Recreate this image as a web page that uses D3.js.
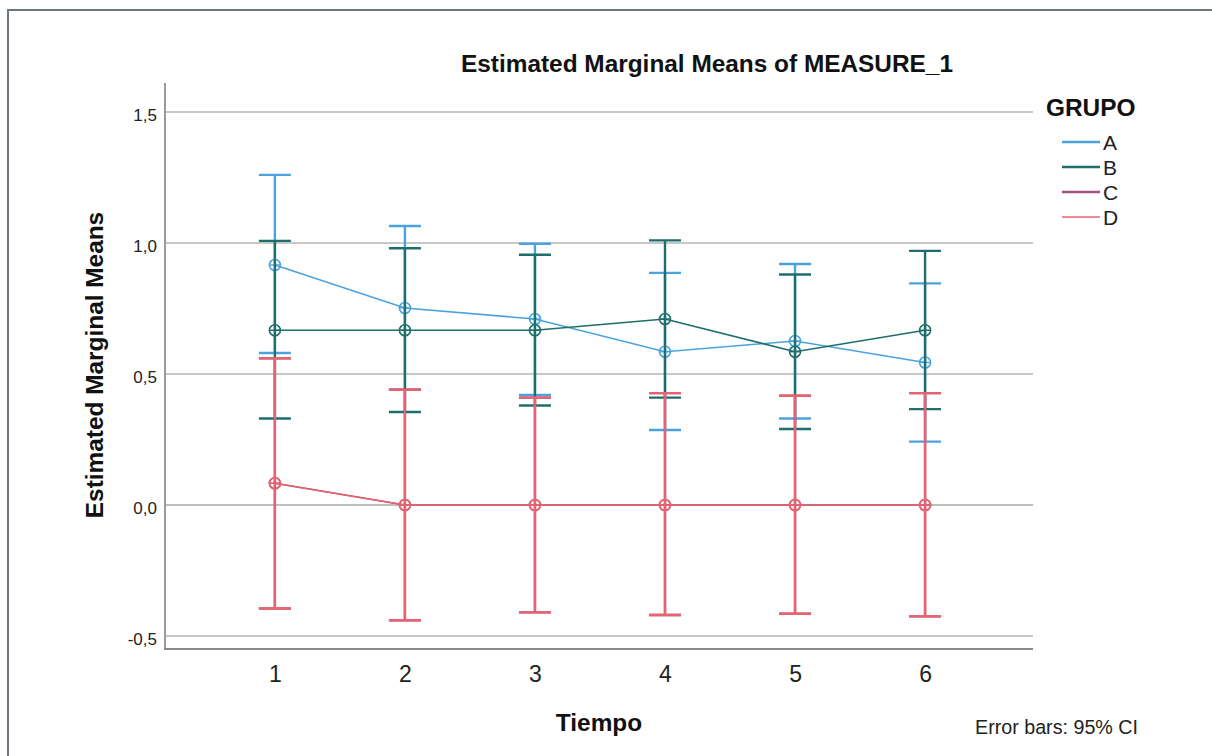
<!DOCTYPE html>
<html lang="en">
<head>
<meta charset="utf-8">
<script src="https://cdn.jsdelivr.net/npm/d3@7"></script>
<style>
body{margin:0;background:#fff;font-family:"Liberation Sans",Arial,sans-serif;}
</style>
</head>
<body>
<div id="drawarea"></div>
<script>
// data
const tiempo=[1,2,3,4,5,6]
const grupos=["A","B","C","D"]
const colores=["#4ba3dd","#1e6e6c","#a5507e","#e8636f"]
const meanA=[0.916,0.752,0.710,0.585,0.626,0.544]
const lowA =[0.580,0.440,0.420,0.286,0.330,0.242]
const highA=[1.260,1.065,0.997,0.886,0.920,0.846]
const meanB=[0.667,0.667,0.667,0.710,0.585,0.667]
const lowB =[0.330,0.355,0.380,0.410,0.290,0.366]
const highB=[1.008,0.980,0.955,1.010,0.880,0.970]
const meanC=[0.083,0,0,0,0,0]
const lowC =[-0.395,-0.440,-0.410,-0.420,-0.415,-0.425]
const highC=[0.560,0.440,0.410,0.427,0.417,0.427]
const meanD=[0.083,0,0,0,0,0]
const lowD =[-0.395,-0.440,-0.410,-0.420,-0.415,-0.425]
const highD=[0.560,0.440,0.410,0.427,0.417,0.427]
const yTicks=[-0.5,0,0.5,1.0,1.5]

const series=[
 {g:"A",m:meanA,lo:lowA,hi:highA},
 {g:"B",m:meanB,lo:lowB,hi:highB},
 {g:"C",m:meanC,lo:lowC,hi:highC},
 {g:"D",m:meanD,lo:lowD,hi:highD}
]

const W=1212,H=756
const pLeft=165,pRight=1033,pTop=83,pBottom=649
const color=d3.scaleOrdinal().domain(grupos).range(colores)
const x=d3.scaleLinear().domain([0.155,6.83]).range([pLeft,pRight])
const y=d3.scaleLinear().domain([0,1.5]).range([505,112])

const svg=d3.select("#drawarea").append("svg").attr("width",W).attr("height",H).style("display","block")
 .style("font-family","Liberation Sans, Arial, sans-serif")

// outer frame
svg.append("path").attr("d","M8,756 V10 H1212").attr("fill","none").attr("stroke","#6d7681").attr("stroke-width",2)

// gridlines
svg.append("g").selectAll("line").data(yTicks).enter().append("line")
 .attr("x1",pLeft).attr("x2",pRight).attr("y1",d=>y(d)).attr("y2",d=>y(d))
 .attr("stroke",d=>d==0?"#a8a8a8":"#c8c8c8").attr("stroke-width",d=>d==0?1.3:2)

// axes
const yAxis=svg.append("g").attr("transform","translate("+pLeft+",0)")
 .call(d3.axisLeft(y).tickValues(yTicks).tickSize(0).tickPadding(8).tickFormat(d=>d3.format(".1f")(d).replace(".",",").replace("−","-")))
yAxis.select(".domain").remove()
yAxis.selectAll("text").style("font-size","17px").style("font-family","Liberation Sans, Arial, sans-serif").attr("fill","#222").attr("dy","0.5em")
const xAxis=svg.append("g").attr("transform","translate(0,"+pBottom+")")
 .call(d3.axisBottom(x).tickValues(tiempo).tickSize(0).tickPadding(15).tickFormat(d3.format("d")))
xAxis.select(".domain").remove()
xAxis.selectAll("text").style("font-size","23px").style("font-family","Liberation Sans, Arial, sans-serif").attr("fill","#222").attr("y",33).attr("dy",0)
svg.append("line").attr("x1",pLeft).attr("x2",pLeft).attr("y1",pTop).attr("y2",pBottom).attr("stroke","#9a9a9a").attr("stroke-width",2)
svg.append("line").attr("x1",pLeft-1).attr("x2",pRight).attr("y1",pBottom).attr("y2",pBottom).attr("stroke","#8a8a8a").attr("stroke-width",2)

// error bars, lines, markers per group
const cap=16
series.forEach(s=>{
 let c=color(s.g)
 let gg=svg.append("g").attr("class","grp"+s.g)
 let pts=tiempo.map((t,i)=>({t:t,m:s.m[i],lo:s.lo[i],hi:s.hi[i]}))
 gg.selectAll("line.eb").data(pts).enter().append("line").attr("class","eb")
  .attr("x1",d=>x(d.t)).attr("x2",d=>x(d.t)).attr("y1",d=>y(d.lo)).attr("y2",d=>y(d.hi))
  .attr("stroke",c).attr("stroke-width",2.4)
 gg.selectAll("line.capHi").data(pts).enter().append("line").attr("class","capHi")
  .attr("x1",d=>x(d.t)-cap).attr("x2",d=>x(d.t)+cap).attr("y1",d=>y(d.hi)).attr("y2",d=>y(d.hi))
  .attr("stroke",c).attr("stroke-width",2.4)
 gg.selectAll("line.capLo").data(pts).enter().append("line").attr("class","capLo")
  .attr("x1",d=>x(d.t)-cap).attr("x2",d=>x(d.t)+cap).attr("y1",d=>y(d.lo)).attr("y2",d=>y(d.lo))
  .attr("stroke",c).attr("stroke-width",2.4)
 let ln=d3.line().x(d=>x(d.t)).y(d=>y(d.m))
 gg.append("path").attr("d",ln(pts)).attr("fill","none").attr("stroke",c).attr("stroke-width",1.6)
 gg.selectAll("circle").data(pts).enter().append("circle")
  .attr("cx",d=>x(d.t)).attr("cy",d=>y(d.m)).attr("r",5.5).attr("fill","none").attr("stroke",c).attr("stroke-width",1.6)
 gg.selectAll("line.cross").data(pts).enter().append("line").attr("class","cross")
  .attr("x1",d=>x(d.t)-5.5).attr("x2",d=>x(d.t)+5.5).attr("y1",d=>y(d.m)).attr("y2",d=>y(d.m))
  .attr("stroke",c).attr("stroke-width",1.4)
})

// titles
svg.append("text").attr("x",707).attr("y",72).attr("text-anchor","middle")
 .style("font-size","24.4px").style("font-weight","bold").attr("fill","#111").text("Estimated Marginal Means of MEASURE_1")
svg.append("text").attr("transform","translate(103,365) rotate(-90)").attr("text-anchor","middle")
 .style("font-size","24.4px").style("font-weight","bold").attr("fill","#111").text("Estimated Marginal Means")
svg.append("text").attr("x",599).attr("y",731).attr("text-anchor","middle")
 .style("font-size","24.4px").style("font-weight","bold").attr("fill","#111").text("Tiempo")
svg.append("text").attr("x",975).attr("y",734)
 .style("font-size","19.7px").attr("fill","#222").text("Error bars: 95% CI")

// legend
const leg=svg.append("g")
leg.append("text").attr("x",1046).attr("y",116).style("font-size","24.4px").style("font-weight","bold").attr("fill","#111").text("GRUPO")
const items=leg.selectAll("g.item").data(grupos).enter().append("g").attr("transform",(d,i)=>"translate(0,"+(142+i*25)+")")
items.append("line").attr("x1",1062).attr("x2",1100).attr("y1",0).attr("y2",0).attr("stroke",d=>color(d)).attr("stroke-width",(d,i)=>i==3?1.5:2.5)
items.append("text").attr("x",1103).attr("y",8).style("font-size","21px").attr("fill","#222").text(d=>d)
</script>
</body>
</html>
